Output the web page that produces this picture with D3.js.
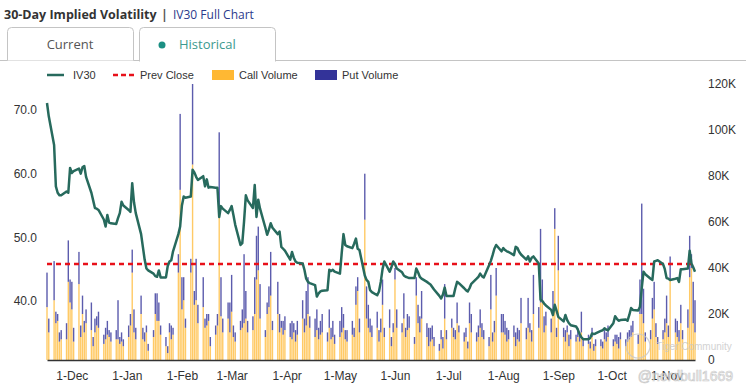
<!DOCTYPE html>
<html>
<head>
<meta charset="utf-8">
<script src="https://cdn.jsdelivr.net/npm/d3@7"></script>
<style>
  body { margin: 0; background: #fff; }
  svg { display: block; }
</style>
</head>
<body>
<svg id="chart" width="746" height="387"></svg>
<script>
// IV30 values, one per trading day (weekdays 17-Nov-2022 .. 17-Nov-2023), grouped by month
const iv30 = [
  71.1, 69.0, 64.5, 58.0, 57.0, 56.6, 56.6, 57.2, 57.0, 60.9,
  60.1, 60.4, 60.8, 60.0, 61.0, 61.2, 59.5, 57.0, 55.8, 54.6, 54.5, 54.3, 52.8, 51.7, 53.5, 52.3, 52.2, 52.1, 53.0, 53.8, 55.6, 55.0,
  54.3, 54.0, 58.5, 55.5, 53.8, 50.5, 48.5, 46.5, 45.1, 44.8, 44.3, 43.9, 43.8, 44.8, 43.7, 43.7, 45.5, 46.2, 46.4, 47.8, 50.5, 51.7,
  55.0, 56.4, 56.2, 56.4, 60.6, 60.2, 59.5, 59.0, 59.6, 58.0, 59.1, 57.8, 57.9, 57.8, 57.8, 53.2, 54.9, 54.5, 53.8, 54.3,
  54.9, 53.5, 52.0, 48.8, 49.1, 52.5, 56.6, 55.8, 54.6, 58.2, 53.2, 55.9, 54.5, 51.5, 50.4, 51.2, 52.2, 51.5, 50.5, 50.9, 48.5, 48.2, 47.9,
  46.5, 47.7, 46.8, 46.2, 46.0, 45.9, 44.9, 43.5, 43.0, 42.8, 42.5, 40.7, 41.2, 41.5, 41.6, 41.7, 44.9, 44.7, 44.9, 44.6,
  44.3, 47.5, 50.5, 48.8, 48.6, 48.3, 49.0, 49.8, 48.2, 48.0, 44.0, 43.3, 43.0, 41.7, 41.4, 40.9, 41.5, 43.0, 45.0, 46.2, 44.6, 45.3, 46.2,
  45.8, 45.1, 44.5, 44.0, 43.8, 43.7, 43.6, 43.6, 45.1, 44.5, 43.8, 43.5, 43.0, 42.8, 42.6, 42.2, 41.8, 40.8, 40.4, 41.0, 42.1, 40.8,
  40.8, 40.8, 42.0, 43.0, 42.8, 42.0, 41.7, 41.5, 42.0, 42.7, 43.5, 43.8, 44.3, 43.9, 43.7, 45.6, 46.3, 47.2, 48.2, 48.8, 47.8,
  48.3, 48.0, 47.8, 47.7, 47.2, 48.5, 48.3, 47.7, 47.3, 46.5, 47.0, 46.2, 46.8, 47.0, 45.9, 40.2, 40.0, 39.6, 39.3, 38.6, 37.8, 39.4, 38.5,
  37.5, 36.8, 37.8, 37.0, 36.5, 36.2, 36.0, 35.5, 34.8, 34.3, 34.0, 34.0, 34.2, 34.9, 34.8, 34.9, 35.3, 35.4, 35.7, 35.5, 35.4,
  36.5, 37.6, 37.2, 36.9, 37.0, 37.1, 36.9, 37.8, 38.9, 38.6, 38.5, 39.1, 42.0, 44.6, 44.2, 43.5, 43.3, 46.2, 46.3, 46.4, 45.8, 45.0,
  43.6, 43.5, 43.3, 43.5, 43.6, 43.0, 45.0, 45.0, 45.1, 47.9, 45.9, 45.3, 44.6
];

// call volume, thousands
const callVol = [
  23, 12, 26, 16, 17, 8, 9, 9, 34, 25,
  22, 8, 33, 10, 20, 12, 16, 13, 6, 12, 15, 14, 7, 9, 11, 10, 8, 9, 9, 7, 8, 6,
  10, 15, 38, 12, 9, 20, 9, 8, 12, 4, 10, 20, 17, 17, 11, 6, 3, 12, 9, 11, 38, 74,
  22, 26, 14, 38, 85, 24, 26, 16, 23, 14, 15, 17, 6, 11, 15, 62, 19, 12, 18, 12,
  21, 10, 8, 13, 14, 16, 18, 12, 13, 20, 35, 39, 18, 10, 20, 23, 28, 13, 20, 12, 14, 11, 13,
  10, 9, 12, 8, 11, 18, 12, 15, 20, 14, 10, 13, 9, 11, 12, 8, 14, 9, 10, 7,
  10, 12, 14, 9, 8, 11, 10, 24, 30, 12, 61, 18, 14, 12, 10, 14, 8, 12, 24, 10, 14, 6, 12,
  35, 14, 12, 18, 10, 13, 14, 7, 28, 16, 12, 18, 10, 6, 8, 9, 6, 4, 9, 5, 18, 9,
  14, 10, 9, 16, 12, 8, 10, 5, 16, 12, 8, 10, 14, 10, 9, 6, 22, 8, 12, 28, 12,
  12, 11, 8, 9, 10, 6, 9, 8, 16, 9, 14, 12, 8, 20, 14, 25, 26, 12, 15, 12, 20, 57, 10,
  39, 10, 8, 12, 6, 9, 8, 10, 8, 12, 6, 7, 5, 10, 4, 6, 6, 5, 9, 8, 10,
  6, 8, 7, 5, 9, 6, 8, 9, 10, 12, 7, 20, 20, 16, 8, 9, 18, 22, 10, 7, 9, 12,
  16, 10, 35, 12, 10, 8, 16, 9, 14, 36, 40, 16, 12
];

// put volume, thousands
const putVol = [
  15, 6, 17, 5, 3, 4, 4, 7, 18, 10,
  12, 6, 14, 5, 8, 5, 6, 12, 4, 6, 4, 7, 4, 5, 6, 3, 4, 4, 17, 3, 4, 3,
  5, 5, 10, 10, 5, 8, 5, 4, 3, 3, 3, 9, 12, 8, 4, 4, 3, 4, 6, 3, 8, 33,
  14, 10, 4, 6, 35, 6, 18, 8, 13, 4, 5, 3, 4, 4, 5, 37, 17, 6, 7, 13,
  16, 5, 4, 4, 8, 30, 12, 5, 6, 16, 19, 19, 15, 3, 5, 9, 19, 4, 14, 8, 3, 6, 6,
  6, 8, 4, 5, 6, 8, 6, 15, 16, 5, 8, 9, 5, 6, 8, 4, 8, 5, 7, 4,
  7, 11, 6, 4, 5, 6, 4, 8, 6, 6, 20, 14, 10, 6, 5, 7, 5, 6, 11, 4, 8, 4, 4,
  5, 8, 4, 11, 4, 7, 5, 3, 8, 8, 7, 12, 6, 8, 6, 6, 4, 3, 4, 5, 15, 4,
  4, 4, 4, 9, 3, 4, 4, 3, 9, 8, 4, 5, 8, 6, 4, 4, 15, 4, 5, 12, 8,
  8, 6, 6, 4, 5, 6, 5, 5, 11, 5, 13, 4, 5, 17, 9, 32, 9, 7, 6, 6, 10, 9, 4,
  15, 4, 5, 3, 5, 4, 3, 4, 4, 9, 3, 4, 3, 4, 3, 3, 3, 3, 4, 4, 5,
  3, 3, 4, 5, 3, 3, 4, 4, 5, 5, 4, 15, 48, 15, 4, 4, 9, 12, 6, 3, 4, 6,
  12, 5, 10, 6, 7, 5, 8, 4, 8, 18, 6, 18, 14
];

const prevClose = 45.8;
const ivTicks = [40, 50, 60, 70];
const volTicks = [0, 20000, 40000, 60000, 80000, 100000, 120000];
const monthTicks = ['2022-12-01', '2023-01-01', '2023-02-01', '2023-03-01', '2023-04-01', '2023-05-01',
  '2023-06-01', '2023-07-01', '2023-08-01', '2023-09-01', '2023-10-01', '2023-11-01'];

const startDate = new Date(2022, 10, 17);
const endDate = new Date(2023, 10, 17);

// trading days = weekdays in the range
const days = d3.timeDay.range(startDate, d3.timeDay.offset(endDate, 1))
  .filter(d => d.getDay() !== 0 && d.getDay() !== 6);

const rows = days.map((d, i) => ({
  date: d, iv: iv30[i], call: callVol[i] * 1000, put: putVol[i] * 1000
})).filter(r => r.iv !== undefined);

const svg = d3.select('#chart');
const font = '"Liberation Sans", Arial, sans-serif';

// ---- header + tabs
svg.append('text').attr('x', 4).attr('y', 19)
  .attr('font-family', '"Open Sans", sans-serif').attr('font-size', 12.5).attr('font-weight', 700)
  .attr('fill', '#333').text('30-Day Implied Volatility');
svg.append('text').attr('x', 161).attr('y', 19)
  .attr('font-family', '"Open Sans", sans-serif').attr('font-size', 12.5).attr('font-weight', 700)
  .attr('fill', '#555').text('|');
svg.append('text').attr('x', 173).attr('y', 19)
  .attr('font-family', '"Open Sans", sans-serif').attr('font-size', 12)
  .attr('fill', '#2b3a8c').text('IV30 Full Chart');

svg.append('line').attr('x1', 0).attr('x2', 746).attr('y1', 60.5).attr('y2', 60.5)
  .attr('stroke', '#c4c4c4');

function tabPath(x0, x1, y0, y1, r) {
  return `M${x0},${y1} L${x0},${y0 + r} Q${x0},${y0} ${x0 + r},${y0} L${x1 - r},${y0} Q${x1},${y0} ${x1},${y0 + r} L${x1},${y1}`;
}
svg.append('path').attr('d', tabPath(7.5, 133.5, 27.5, 60.5, 4))
  .attr('fill', '#fff').attr('stroke', '#c4c4c4');
svg.append('rect').attr('x', 139).attr('y', 28).attr('width', 136).attr('height', 34).attr('fill', '#fff');
svg.append('path').attr('d', tabPath(139.5, 275.5, 27.5, 61.5, 4))
  .attr('fill', 'none').attr('stroke', '#c4c4c4');

svg.append('text').attr('x', 70).attr('y', 48.5).attr('text-anchor', 'middle')
  .attr('font-family', '"Open Sans", sans-serif').attr('font-size', 13)
  .attr('fill', '#555').text('Current');
svg.append('circle').attr('cx', 162).attr('cy', 45).attr('r', 3.5).attr('fill', '#1b8f83');
svg.append('text').attr('x', 179).attr('y', 48.5)
  .attr('font-family', '"Open Sans", sans-serif').attr('font-size', 13)
  .attr('fill', '#3c9a8e').text('Historical');

// ---- scales
const x = d3.scaleTime().domain([startDate, endDate]).range([47, 695]);
const yIV = d3.scaleLinear().domain([30.73, 74.08]).range([360, 84]);
const yVol = d3.scaleLinear().domain([0, 120000]).range([360, 84]);

// ---- bars (stacked call + put)
const barW = 1.4;
const bars = svg.append('g');
bars.selectAll('rect.call').data(rows).enter().append('rect')
  .attr('class', 'call')
  .attr('x', d => x(d.date) - barW / 2)
  .attr('width', barW)
  .attr('y', d => yVol(d.call))
  .attr('height', d => yVol(0) - yVol(d.call))
  .attr('fill', '#ffb833').attr('fill-opacity', 0.75);
bars.selectAll('rect.put').data(rows).enter().append('rect')
  .attr('class', 'put')
  .attr('x', d => x(d.date) - barW / 2)
  .attr('width', barW)
  .attr('y', d => yVol(d.call + d.put))
  .attr('height', d => yVol(d.call) - yVol(d.call + d.put))
  .attr('fill', '#333399').attr('fill-opacity', 0.8);

// ---- prev close
svg.append('line')
  .attr('x1', 47).attr('x2', 695)
  .attr('y1', yIV(prevClose)).attr('y2', yIV(prevClose))
  .attr('stroke', '#e8101a').attr('stroke-width', 2.5).attr('stroke-dasharray', '5,4');

// ---- IV30 line
svg.append('path').datum(rows)
  .attr('d', d3.line().x(d => x(d.date)).y(d => yIV(d.iv)))
  .attr('fill', 'none').attr('stroke', '#276a5d').attr('stroke-width', 2.5)
  .attr('stroke-linejoin', 'round');

// ---- axes
const xAxis = svg.append('g').attr('transform', 'translate(0,360)')
  .call(d3.axisBottom(x)
    .tickValues(monthTicks.map(s => d3.timeParse('%Y-%m-%d')(s)))
    .tickFormat(d3.timeFormat('%-d-%b')).tickSize(0).tickPadding(11));
xAxis.select('.domain').attr('stroke', '#333').attr('stroke-width', 1.5);
xAxis.selectAll('text').attr('font-family', font).attr('font-size', 12).attr('fill', '#333');

const yLeft = svg.append('g').attr('transform', 'translate(47,0)')
  .call(d3.axisLeft(yIV).tickValues(ivTicks).tickFormat(d3.format('.1f')).tickSize(0).tickPadding(10));
yLeft.select('.domain').remove();
yLeft.selectAll('text').attr('font-family', font).attr('font-size', 12).attr('fill', '#333');

const yRight = svg.append('g').attr('transform', 'translate(695,0)')
  .call(d3.axisRight(yVol).tickValues(volTicks)
    .tickFormat(v => v === 0 ? '0' : d3.format('d')(v / 1000) + 'K').tickSize(0).tickPadding(13));
yRight.select('.domain').remove();
yRight.selectAll('text').attr('font-family', font).attr('font-size', 12).attr('fill', '#333');

// ---- legend
const leg = svg.append('g').attr('font-family', font).attr('font-size', 11).attr('fill', '#333');
leg.append('line').attr('x1', 47).attr('x2', 64).attr('y1', 75).attr('y2', 75)
  .attr('stroke', '#276a5d').attr('stroke-width', 2.5);
leg.append('text').attr('x', 73).attr('y', 79).text('IV30');
leg.append('line').attr('x1', 113).attr('x2', 134).attr('y1', 75).attr('y2', 75)
  .attr('stroke', '#e8101a').attr('stroke-width', 2.5).attr('stroke-dasharray', '5,3');
leg.append('text').attr('x', 140).attr('y', 79).text('Prev Close');
leg.append('rect').attr('x', 212).attr('y', 70).attr('width', 22).attr('height', 10).attr('fill', '#ffb833');
leg.append('text').attr('x', 239).attr('y', 79).text('Call Volume');
leg.append('rect').attr('x', 315).attr('y', 70).attr('width', 22).attr('height', 10).attr('fill', '#333399');
leg.append('text').attr('x', 342).attr('y', 79).text('Put Volume');

// ---- watermark (faint, like the source screenshot)
const wm = svg.append('g').attr('font-family', font).attr('fill', '#c8c8c8').attr('opacity', 0.8);
wm.append('circle').attr('cx', 638).attr('cy', 346).attr('r', 12)
  .attr('fill', 'none').attr('stroke', '#c8c8c8').attr('stroke-width', 1.2);
wm.append('text').attr('x', 656).attr('y', 350).attr('font-size', 10).text('Tiger Community');
wm.append('text').attr('x', 733).attr('y', 381).attr('text-anchor', 'end').attr('font-size', 14)
  .attr('fill', '#fff').attr('stroke', '#bdbdbd').attr('stroke-width', 0.7).text('@nerdbull1669');
</script>
</body>
</html>
